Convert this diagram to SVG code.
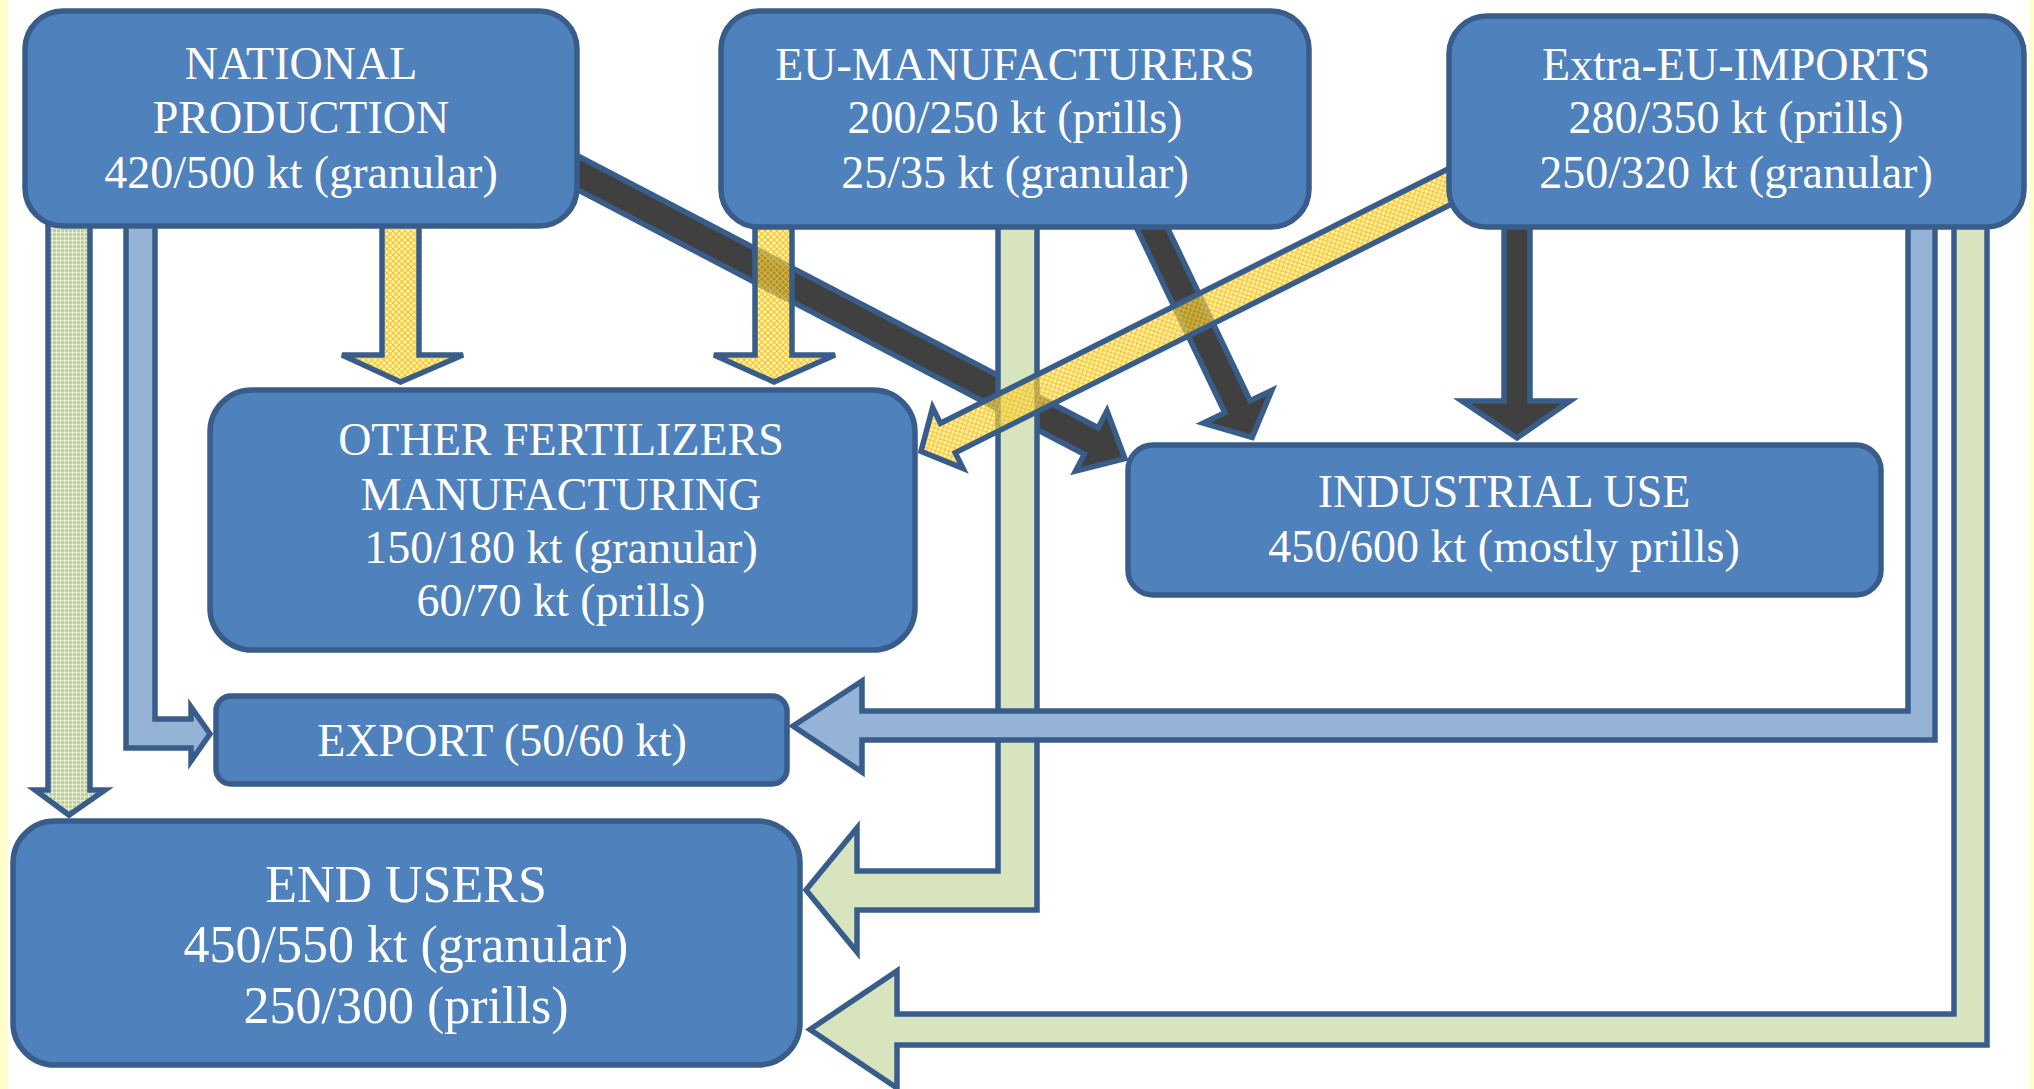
<svg xmlns="http://www.w3.org/2000/svg" width="2034" height="1089" viewBox="0 0 2034 1089">
<style>
.box{fill:#4F81BD;stroke:#385D8A;stroke-width:5.5}
.lbl{font-family:"Liberation Serif","Times New Roman",serif;font-size:46px;fill:#FFFFFF;text-anchor:middle}
.big{font-size:52px}
.arr{stroke:#385D8A;stroke-width:5.5;stroke-linejoin:miter}
.dark{fill:#404040}
.blue{fill:#95B3D7}
.green{fill:#D7E4BD}
.gpat{fill:url(#greenDots)}
.ypat{fill:url(#yellowHatch)}
</style>
<defs>
<pattern id="yellowHatch" patternUnits="userSpaceOnUse" width="6" height="6">
<rect width="6" height="6" fill="#FFE070" fill-opacity="0.5"/>
<path d="M0,0 L6,6 M6,0 L0,6" stroke="#F5BE00" stroke-width="1.1" stroke-opacity="0.85"/>
</pattern>
<pattern id="greenDots" patternUnits="userSpaceOnUse" width="4" height="4">
<rect width="4" height="4" fill="#BCD291"/>
<path d="M0,0.5 H4 M0.5,0 V4" stroke="#EEF4E0" stroke-width="1" stroke-opacity="0.75"/>
</pattern>
</defs>
<rect x="0" y="0" width="2034" height="1089" fill="#FFFFFF"/>
<rect x="0" y="0" width="8" height="1089" fill="#FFFFCC"/>
<rect x="2029" y="0" width="5" height="1089" fill="#FFFFCC"/>

<g id="connectors">
<path id="nat-end" class="arr gpat" d="M48,200 L90,200 L90,790 L105,790 L69,815 L35,790 L48,790 Z"/>
<path id="nat-export" class="arr blue" d="M126,200 L155,200 L155,719 L191,719 L191,707 L210,734 L191,761 L191,748 L126,748 Z"/>
<path id="nat-other" class="arr ypat" d="M382,200 L419,200 L419,355 L463,355 L400.5,382 L342,355 L382,355 Z"/>
<path id="nat-ind" class="arr dark" transform="translate(560,163.6) rotate(27.57)" d="M0,-15 H599.3 V-34 L637.3,0 L599.3,34 V15 H0 Z"/>
<path id="eu-other" class="arr ypat" d="M755,200 L792,200 L792,355 L835,355 L774,382 L714,355 L755,355 Z"/>
<path id="eu-end" class="arr green" d="M998,200 L1037,200 L1037,910 L857,910 L857,952 L806,890 L857,828 L857,871 L998,871 Z"/>
<path id="extra-export" class="arr blue" d="M1935,200 L1908,200 L1908,711 L862,711 L862,681 L793,726 L862,772 L862,740 L1935,740 Z"/>
<path id="extra-end" class="arr green" d="M1954,200 L1987,200 L1987,1045 L897,1045 L897,1088 L810,1029.5 L897,971 L897,1014 L1954,1014 Z"/>
<path id="eu-ind" class="arr dark" transform="translate(1142.2,207.4) rotate(64.45)" d="M0,-14 H221 V-38 L255,0 L221,38 V14 H0 Z"/>
<path id="extra-ind" class="arr dark" d="M1504,200 L1530,200 L1530,401 L1570,401 L1517,438 L1462,401 L1504,401 Z"/>
<path id="extra-other" class="arr ypat" transform="translate(1469.4,176.8) rotate(153.4)" d="M0,-16.5 H583.3 V-34 L613.3,0 L583.3,34 V16.5 H0 Z"/>
</g>

<g id="national">
<rect class="box" x="25" y="11" width="552" height="215" rx="38"/>
<text class="lbl" x="301" y="79">NATIONAL</text>
<text class="lbl" x="301" y="133">PRODUCTION</text>
<text class="lbl" x="301" y="188">420/500 kt (granular)</text>
</g>
<g id="eu">
<rect class="box" x="721" y="11" width="588" height="216" rx="38"/>
<text class="lbl" x="1015" y="80">EU-MANUFACTURERS</text>
<text class="lbl" x="1015" y="133">200/250 kt (prills)</text>
<text class="lbl" x="1015" y="188">25/35 kt (granular)</text>
</g>
<g id="extra">
<rect class="box" x="1449" y="16" width="575" height="211" rx="38"/>
<text class="lbl" x="1736" y="80">Extra-EU-IMPORTS</text>
<text class="lbl" x="1736" y="133">280/350 kt (prills)</text>
<text class="lbl" x="1736" y="188">250/320 kt (granular)</text>
</g>
<g id="other">
<rect class="box" x="210" y="390" width="705" height="260" rx="42"/>
<text class="lbl" x="561" y="455">OTHER FERTILIZERS</text>
<text class="lbl" x="561" y="510">MANUFACTURING</text>
<text class="lbl" x="561" y="563">150/180 kt (granular)</text>
<text class="lbl" x="561" y="616">60/70 kt (prills)</text>
</g>
<g id="industrial">
<rect class="box" x="1128" y="445" width="753" height="150" rx="25"/>
<text class="lbl" x="1504" y="507">INDUSTRIAL USE</text>
<text class="lbl" x="1504" y="562">450/600 kt (mostly prills)</text>
</g>
<g id="export">
<rect class="box" x="216" y="696" width="571" height="88" rx="15"/>
<text class="lbl" x="502" y="756">EXPORT (50/60 kt)</text>
</g>
<g id="endusers">
<rect class="box" x="13" y="821" width="787" height="244" rx="42"/>
<text class="lbl big" x="406" y="902">END USERS</text>
<text class="lbl big" x="406" y="962">450/550 kt (granular)</text>
<text class="lbl big" x="406" y="1023">250/300 (prills)</text>
</g>
</svg>
